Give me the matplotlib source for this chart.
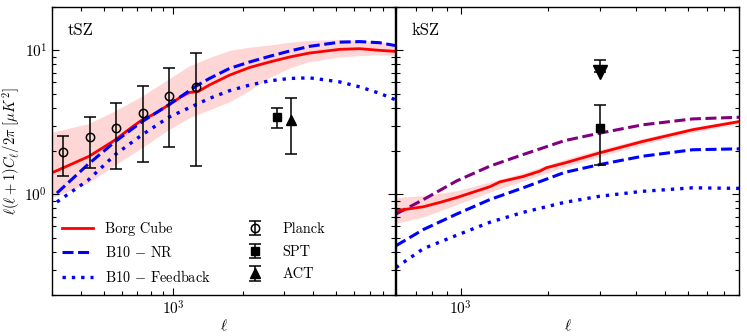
import numpy as np
import matplotlib
matplotlib.use('Agg')
import matplotlib.pyplot as plt
from matplotlib.ticker import NullFormatter

plt.rcParams['font.family'] = 'cmr10'
plt.rcParams['mathtext.fontset'] = 'cm'
plt.rcParams['axes.formatter.use_mathtext'] = True
plt.rcParams['axes.unicode_minus'] = False

# tSZ panel
tsz_borg_ell = [299, 339, 434, 562, 646, 733, 828, 954, 1080, 1172, 1273, 1430, 1742,
                2126, 2594, 3164, 3858, 5196, 6339, 7733, 9000]
tsz_borg = [1.41, 1.54, 1.84, 2.39, 2.84, 3.29, 3.62, 4.18, 4.76, 5.10, 5.16, 5.75, 6.72,
            7.60, 8.30, 8.99, 9.58, 10.16, 10.27, 10.0, 9.84]
tsz_band_ell = [300, 430, 560, 730, 950, 1170, 1450, 1750, 2100, 2600, 3200, 3800, 5200, 7300, 9000]
tsz_band_hi = [2.7, 3.1, 3.8, 4.8, 6.3, 7.8, 9.0, 10.0, 10.5, 10.9, 11.4, 11.7, 11.9, 11.6, 11.1]
tsz_band_lo = [0.95, 1.2, 1.6, 2.1, 2.8, 3.4, 3.9, 4.4, 5.2, 6.5, 7.6, 8.3, 9.0, 9.3, 9.2]
tsz_nr_ell = [315, 428, 562, 733, 954, 1252, 1430, 1742, 2126, 2594, 3164, 3858, 5196, 6339, 7733, 9000]
tsz_nr = [1.02, 1.61, 2.33, 3.20, 4.18, 5.65, 6.38, 7.48, 8.30, 9.09, 9.89, 10.66, 11.4, 11.5, 11.3, 10.8]
tsz_fb_ell = [315, 428, 562, 733, 954, 1172, 1430, 1742, 2126, 2594, 3164, 3858, 4260, 5196, 6339, 7733, 9000]
tsz_fb = [0.885, 1.25, 1.89, 2.59, 3.43, 4.0, 4.64, 5.24, 5.74, 6.14, 6.38, 6.44, 6.31, 6.04, 5.58, 5.03, 4.55]

planck_ell = [335.5, 436.5, 567.5, 738, 959.5, 1247.5]
planck_val = [1.96, 2.50, 2.90, 3.68, 4.82, 5.58]
planck_lo = [1.34, 1.53, 1.50, 1.67, 2.12, 1.57]
planck_hi = [2.56, 3.46, 4.33, 5.65, 7.51, 9.58]
spt_tsz = (2800, 3.42, 0.54)
act_tsz = (3200, 3.3, 1.4)

# kSZ panel
ksz_borg_ell = [600, 745, 850, 969, 1259, 1362, 1637, 1867, 1967, 2270, 2995, 4208, 6240, 9000]
ksz_borg = [0.77, 0.82, 0.88, 0.95, 1.13, 1.22, 1.33, 1.45, 1.53, 1.65, 1.94, 2.33, 2.81, 3.20]
ksz_band_ell = [600, 750, 970, 1260, 1640, 2270, 3000, 4200, 6240, 9000]
ksz_band_hi = [0.95, 0.98, 1.06, 1.22, 1.41, 1.75, 2.05, 2.44, 2.92, 3.31]
ksz_band_lo = [0.63, 0.70, 0.85, 1.04, 1.24, 1.55, 1.83, 2.22, 2.70, 3.09]
ksz_purple_ell = [600, 745, 969, 1259, 1637, 2270, 2995, 4208, 6240, 9000]
ksz_purple = [0.73, 0.92, 1.24, 1.57, 1.89, 2.36, 2.66, 3.04, 3.34, 3.43]
ksz_nr_ell = [600, 745, 969, 1259, 1637, 2270, 2995, 4208, 6240, 9000]
ksz_nr = [0.44, 0.57, 0.73, 0.92, 1.11, 1.42, 1.61, 1.84, 2.04, 2.07]
ksz_fb_ell = [600, 745, 969, 1259, 1637, 2270, 2995, 4208, 6240, 9000]
ksz_fb = [0.31, 0.42, 0.52, 0.64, 0.75, 0.88, 0.97, 1.05, 1.11, 1.10]
spt_ksz = (3000, 2.9, 1.3)
act_ksz_limit = (3000, 7.1, 1.5)

fig = plt.figure(figsize=(7.47, 3.36), dpi=100)
ax1 = fig.add_axes([52 / 747, 41 / 336, 343 / 747, 288 / 336])
ax2 = fig.add_axes([396 / 747, 41 / 336, 343 / 747, 288 / 336], sharey=ax1)

ekw = dict(color='black', capsize=4.5, elinewidth=1.1, capthick=1.1)
dash = (0, (3.6, 1.5))
dots = (0, (1, 1.8))

# left: tSZ
ax1.fill_between(tsz_band_ell, tsz_band_lo, tsz_band_hi, color='red', alpha=0.16, lw=0)
ax1.plot(tsz_borg_ell, tsz_borg, color='red', lw=2, label='Borg Cube')
ax1.plot(tsz_nr_ell, tsz_nr, color='blue', lw=2.2, ls=dash, label=r'B10 $-$ NR')
ax1.plot(tsz_fb_ell, tsz_fb, color='blue', lw=2.4, ls=dots, label=r'B10 $-$ Feedback')
yerr = [np.array(planck_val) - np.array(planck_lo), np.array(planck_hi) - np.array(planck_val)]
ax1.errorbar(planck_ell, planck_val, yerr=yerr, fmt='o', mfc='none', mec='black', ms=6,
             mew=1.1, label='Planck', **ekw)
ax1.errorbar(spt_tsz[0], spt_tsz[1], yerr=spt_tsz[2], fmt='s', ms=6, mfc='black', mec='black',
             label='SPT', **ekw)
ax1.errorbar(act_tsz[0], act_tsz[1], yerr=act_tsz[2], fmt='^', ms=7, mfc='black', mec='black',
             label='ACT', **ekw)
ax1.text(0.045, 0.92, 'tSZ', transform=ax1.transAxes, fontsize=12, va='center')

# right: kSZ
ax2.fill_between(ksz_band_ell, ksz_band_lo, ksz_band_hi, color='red', alpha=0.16, lw=0)
ax2.plot(ksz_purple_ell, ksz_purple, color='purple', lw=2.2, ls=dash)
ax2.plot(ksz_borg_ell, ksz_borg, color='red', lw=2)
ax2.plot(ksz_nr_ell, ksz_nr, color='blue', lw=2.2, ls=dash)
ax2.plot(ksz_fb_ell, ksz_fb, color='blue', lw=2.4, ls=dots)
ax2.errorbar(spt_ksz[0], spt_ksz[1], yerr=spt_ksz[2], fmt='s', ms=6, mfc='black', mec='black', **ekw)
ax2.errorbar(act_ksz_limit[0], act_ksz_limit[1], yerr=[[0], [act_ksz_limit[2]]], fmt='v', ms=10,
             mfc='black', mec='black', **ekw)
ax2.text(0.045, 0.92, 'kSZ', transform=ax2.transAxes, fontsize=12, va='center')

for ax in (ax1, ax2):
    ax.set_xscale('log')
    ax.set_yscale('log')
    ax.tick_params(which='both', direction='in', top=True, right=True, labelsize=11, width=0.8)
    ax.tick_params(which='major', length=5)
    ax.tick_params(which='minor', length=3)
    ax.xaxis.set_minor_formatter(NullFormatter())
    ax.yaxis.set_minor_formatter(NullFormatter())
    ax.set_xlabel(r'$\ell$', fontsize=11, labelpad=0)
    for s in ax.spines.values():
        s.set_linewidth(1.0)

ax1.set_xlim(300, 9000)
ax2.set_xlim(600, 9000)
ax1.set_ylim(0.2, 20)
ax2.tick_params(labelleft=False)
ax1.set_ylabel(r'$\ell(\ell+1)C_\ell/2\pi\ [\mu K^2]$', fontsize=10.5, labelpad=2)

ax1.legend(loc='lower left', ncol=2, frameon=False, fontsize=10.3, handlelength=2.2,
           handletextpad=0.8, columnspacing=2.0, labelspacing=0.62, borderaxespad=0.3)

fig.savefig('out.png', dpi=100)
